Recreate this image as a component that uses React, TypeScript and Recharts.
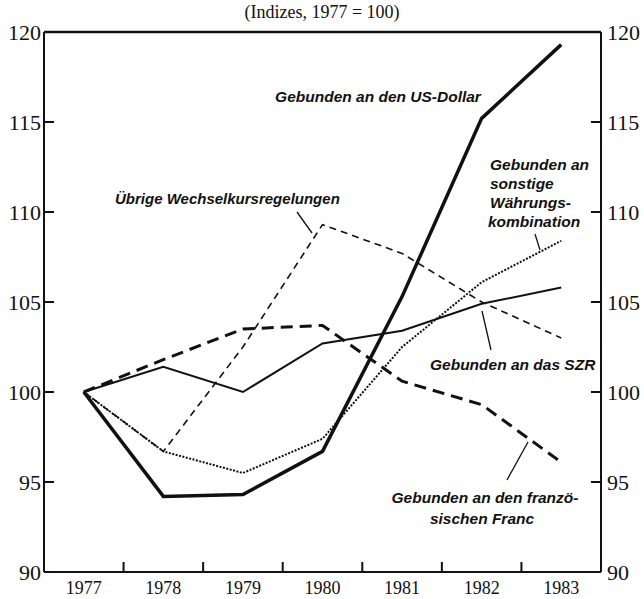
import React from "react";
import { LineChart, Line, XAxis, YAxis, ReferenceLine } from "recharts";

const years = [1977, 1978, 1979, 1980, 1981, 1982, 1983];
const usDollar = [100, 94.2, 94.3, 96.7, 105.3, 115.2, 119.3];
const szr = [100, 101.4, 100.0, 102.7, 103.4, 104.9, 105.8];
const uebrige = [100, 96.7, 102.5, 109.3, 107.7, 105.0, 103.0];
const sonstige = [100, 96.7, 95.5, 97.4, 102.5, 106.1, 108.4];
const franc = [100, 101.8, 103.5, 103.7, 100.6, 99.3, 96.1];

const yTicks = [90, 95, 100, 105, 110, 115, 120];
const midTicks = [1977.5, 1978.5, 1979.5, 1980.5, 1981.5, 1982.5];

const data = years.map((year, i) => ({
  year,
  usDollar: usDollar[i],
  szr: szr[i],
  uebrige: uebrige[i],
  sonstige: sonstige[i],
  franc: franc[i],
}));

const serif = "'Liberation Serif', 'Times New Roman', serif";
const noteFont = "'Liberation Sans', Arial, sans-serif";

const noteStyle: React.CSSProperties = {
  fontFamily: noteFont,
  fontStyle: "italic",
  fontWeight: 700,
  fontSize: 15.5,
};

const ink = "#111";
const frame = { stroke: ink, strokeWidth: 2 };

// y labels sit outside the frame, their tick marks point inward
function LeftTick(props: any) {
  const { x, y, payload } = props;
  return (
    <g>
      <line x1={x + 3} x2={x + 13} y1={y} y2={y} stroke={ink} strokeWidth={2} />
      <text x={x} y={y} dy="0.355em" textAnchor="end" fill={ink} fontSize={22} fontFamily={serif}>
        {payload.value}
      </text>
    </g>
  );
}

function RightTick(props: any) {
  const { x, y, payload } = props;
  return (
    <g>
      <line x1={x - 6} x2={x - 16} y1={y} y2={y} stroke={ink} strokeWidth={2} />
      <text x={x} y={y} dy="0.355em" textAnchor="start" fill={ink} fontSize={22} fontFamily={serif}>
        {payload.value}
      </text>
    </g>
  );
}

export default function App() {
  return (
    <div style={{ position: "absolute", left: 0, top: 0, width: 644, height: 599, background: "#fff" }}>
      <LineChart
        width={644}
        height={599}
        data={data}
        margin={{ top: 32, right: 0, bottom: 0, left: 0 }}
      >
        <XAxis
          dataKey="year"
          type="number"
          domain={[1976.5, 1983.5]}
          ticks={years}
          height={27}
          tickLine={false}
          axisLine={frame}
          tickSize={0}
          tickMargin={9}
          tick={{ fill: ink, fontSize: 18, fontFamily: serif }}
        />
        <XAxis
          xAxisId="ticks"
          dataKey="year"
          type="number"
          domain={[1976.5, 1983.5]}
          ticks={midTicks}
          mirror
          axisLine={false}
          tickSize={10}
          tickLine={{ stroke: ink, strokeWidth: 2 }}
          tickFormatter={() => ""}
        />
        <YAxis
          yAxisId="left"
          orientation="left"
          dataKey="szr"
          domain={[90, 120]}
          ticks={yTicks}
          width={44}
          tickLine={false}
          axisLine={frame}
          tickSize={0}
          tickMargin={3}
          tick={<LeftTick />}
        />
        <YAxis
          yAxisId="right"
          orientation="right"
          dataKey="szr"
          domain={[90, 120]}
          ticks={yTicks}
          width={43}
          tickLine={false}
          axisLine={frame}
          tickSize={0}
          tickMargin={6}
          tick={<RightTick />}
        />
        <ReferenceLine yAxisId="left" y={120} stroke={ink} strokeWidth={2.5} />
        <Line yAxisId="left" type="linear" dataKey="uebrige" stroke={ink} strokeWidth={1.6} strokeDasharray="7 5" dot={false} isAnimationActive={false} />
        <Line yAxisId="left" type="linear" dataKey="sonstige" stroke={ink} strokeWidth={2} strokeDasharray="2 1.5" dot={false} isAnimationActive={false} />
        <Line yAxisId="left" type="linear" dataKey="franc" stroke={ink} strokeWidth={3} strokeDasharray="12 7" dot={false} isAnimationActive={false} />
        <Line yAxisId="left" type="linear" dataKey="szr" stroke={ink} strokeWidth={2} dot={false} isAnimationActive={false} />
        <Line yAxisId="left" type="linear" dataKey="usDollar" stroke={ink} strokeWidth={3.5} dot={false} isAnimationActive={false} />
      </LineChart>
      <svg width={644} height={599} style={{ position: "absolute", left: 0, top: 0, pointerEvents: "none" }}>
        <text x={322} y={18} textAnchor="middle" fontFamily={serif} fontSize={18} fill={ink}>
          (Indizes, 1977 = 100)
        </text>
        <text x={378} y={102} textAnchor="middle" fill={ink} style={noteStyle}>
          Gebunden an den US-Dollar
        </text>
        <text x={115} y={204} fill={ink} style={{ ...noteStyle, fontSize: 15 }}>
          Übrige Wechselkursregelungen
        </text>
        <line x1={297} y1={212} x2={312} y2={233} stroke={ink} strokeWidth={1.3} />
        <g fill={ink} style={noteStyle}>
          <text x={490} y={170}>Gebunden an</text>
          <text x={490} y={189}>sonstige</text>
          <text x={490} y={208}>Währungs-</text>
          <text x={488} y={227}>kombination</text>
        </g>
        <line x1={535} y1={234} x2={540} y2={250} stroke={ink} strokeWidth={1.3} />
        <text x={430} y={370} fill={ink} style={noteStyle}>
          Gebunden an das SZR
        </text>
        <line x1={482} y1={311} x2={491} y2={350} stroke={ink} strokeWidth={1.3} />
        <text x={485} y={503} textAnchor="middle" fill={ink} style={noteStyle}>
          Gebunden an den franzö-
        </text>
        <text x={482} y={524} textAnchor="middle" fill={ink} style={noteStyle}>
          sischen Franc
        </text>
        <line x1={528} y1={442} x2={507} y2={480} stroke={ink} strokeWidth={1.3} />
      </svg>
    </div>
  );
}
